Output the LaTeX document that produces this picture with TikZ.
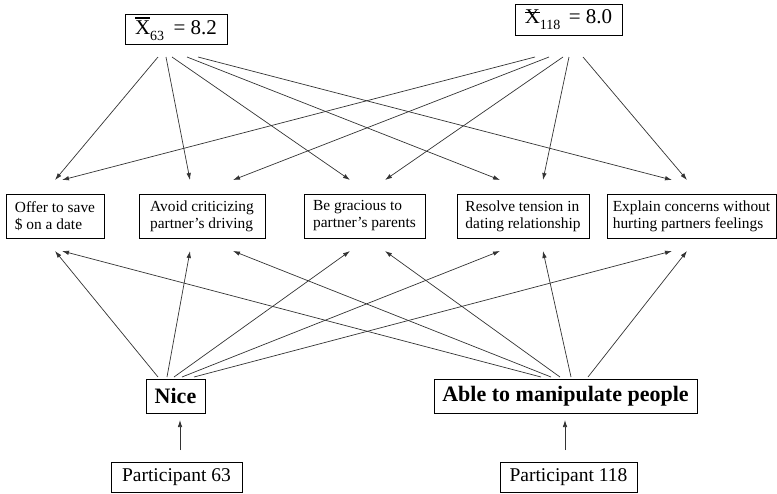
\documentclass[tikz,border=0pt]{standalone}
\usepackage{fontspec}
\setmainfont{Liberation Serif}
\usetikzlibrary{arrows.meta}
\newcommand\ovX{\makebox[0pt][l]{\rule[0.74em]{0.70em}{0.055em}}X}
\newcommand\strX{\makebox[0pt][l]{\hspace{0.02em}\rule[0.47em]{0.70em}{0.055em}}X}
\newcommand\subsc[1]{\raisebox{-0.3em}{\fontsize{14}{14}\selectfont #1}}
\begin{document}
\begin{tikzpicture}[x=1pt,y=-1pt,
  conn/.style={draw=black!80, line width=0.7pt, -{Latex[length=7pt,width=4.5pt]}},
  topbox/.style={draw, line width=0.8pt, inner sep=0pt, minimum height=30pt, font=\fontsize{21}{24}\selectfont},
  midbox/.style={draw, line width=0.8pt, inner xsep=4pt, inner ysep=0pt, minimum height=44pt, align=left, font=\fontsize{15.4}{17}\selectfont},
  bigbox/.style={draw, line width=0.8pt, inner sep=0pt, minimum height=34pt, font=\bfseries\fontsize{22}{24}\selectfont},
  partbox/.style={draw, line width=0.8pt, inner sep=0pt, minimum height=30pt, font=\fontsize{19.5}{22}\selectfont}]
\useasboundingbox (0,0) rectangle (777,493);
% top boxes
\node[topbox, minimum width=102pt] (x63) at (176,29) {\ovX\subsc{63}\hspace{0.45em}= 8.2};
\node[topbox, minimum width=107pt, minimum height=31pt] (x118) at (568.5,19.5) {\strX\subsc{118}\hspace{0.4em}= 8.0};
% middle boxes
\node[midbox, minimum width=98pt] (b1) at (55,216) {Offer to save\\\$ on a date};
\node[midbox, minimum width=126pt] (b2) at (202,216) {Avoid criticizing\\partner’s driving};
\node[midbox, minimum width=121pt] (b3) at (364.5,216) {Be gracious to\\partner’s parents};
\node[midbox, minimum width=132pt] (b4) at (523,216) {Resolve tension in\\dating relationship};
\node[midbox, minimum width=169pt] (b5) at (691.5,216) {Explain concerns without\\hurting partners feelings};
% bottom boxes
\node[bigbox, minimum width=59pt] (nice) at (175.5,396) {Nice};
\node[bigbox, minimum width=263pt] (able) at (565.5,396) {Able to manipulate people};
\node[partbox, minimum width=131pt] (p63) at (176.5,477) {Participant 63};
\node[partbox, minimum width=137pt] (p118) at (568.5,477) {Participant 118};
% connector end points
\foreach \n/\x in {a/158,b/166,c/172,d/187,e/198}{\coordinate (s63\n) at (\x,57);}
\foreach \n/\x in {a/535,b/549,c/563,d/569,e/583}{\coordinate (s118\n) at (\x,57);}
\foreach \n/\x in {a/55,b/190,c/350,d/500,e/672}{\coordinate (tu\n) at (\x,180); \coordinate (td\n) at (\x,251);}
\foreach \n/\x in {a/62,b/233,c/385,d/543,e/687}{\coordinate (vu\n) at (\x,180); \coordinate (vd\n) at (\x,251);}
\foreach \n/\x in {a/158,b/167,c/174,d/182,e/194}{\coordinate (sn\n) at (\x,377);}
\foreach \n/\x in {a/541,b/551,c/560,d/571,e/588}{\coordinate (sa\n) at (\x,377);}
\coordinate (p63t) at (180,450); \coordinate (nicet) at (180,420);
\coordinate (p118t) at (565,450); \coordinate (ablet) at (565,420);
% connectors
\foreach \n in {a,b,c,d,e}{
  \draw[conn] (s63\n) -- (tu\n);
  \draw[conn] (s118\n) -- (vu\n);
  \draw[conn] (sn\n) -- (td\n);
  \draw[conn] (sa\n) -- (vd\n);
}
\draw[conn] (p63t) -- (nicet);
\draw[conn] (p118t) -- (ablet);
\end{tikzpicture}
\end{document}
